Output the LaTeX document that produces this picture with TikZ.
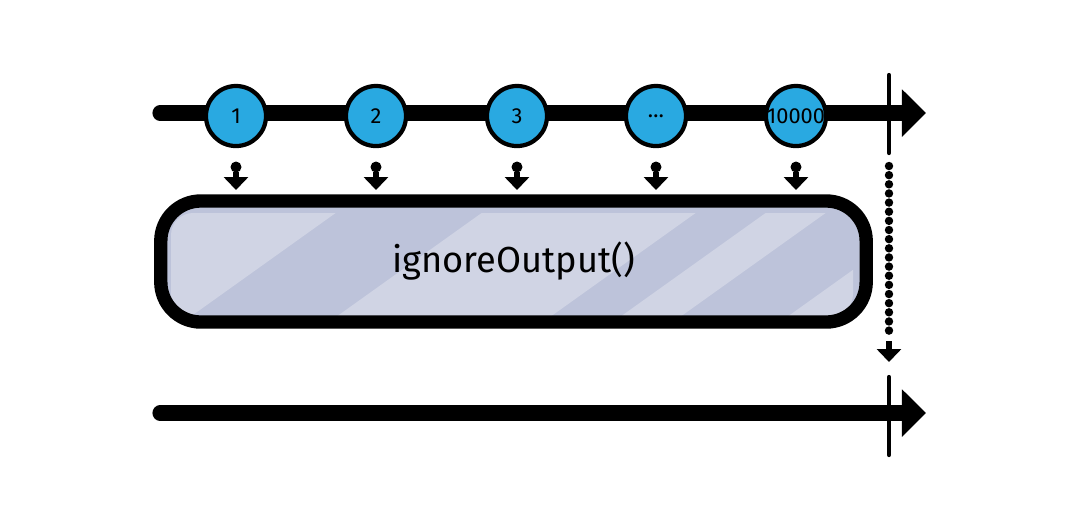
\documentclass[tikz,border=0pt]{standalone}
\usepackage{fontspec}
\setmainfont{Fira Sans}
\usetikzlibrary{arrows.meta}
\definecolor{marbleblue}{HTML}{29A9E1}
\definecolor{boxdark}{HTML}{BDC3DA}
\definecolor{boxlight}{HTML}{D0D4E4}
\tikzset{
timeline/.style={line width=4.3pt,-{Triangle[length=0.24cm,width=0.46cm]}},
marble/.style={circle,draw,line width=1.2pt,fill=marbleblue,minimum size=0.6cm,inner sep=0pt,font=\fontsize{6.2}{6}\selectfont},
drop/.style={line width=1.6pt,line cap=butt,-{Triangle[length=0.13cm,width=0.24cm]}},
endmark/.style={line width=1.2pt}
}
\begin{document}
\begin{tikzpicture}[>=stealth,line join=round,line cap=round,x=0.01cm,y=-0.01cm]
\useasboundingbox (0,0) rectangle (1072,514);
\path (160,113)coordinate(s1) (926,113)coordinate(t1) (889,113)coordinate(e1)
      (160,413)coordinate(s2) (926,413)coordinate(t2) (889,413)coordinate(e2);
% source and result lines
\draw[timeline] (s1)--(t1);
\draw[timeline] (s2)--(t2);
\draw[endmark] (e1) ++(0,-38)--++(0,78);
\draw[endmark] (e2) ++(0,-36)--++(0,78);
\foreach \x/\t [count=\i] in {236/1,376/2,517/3,656/\ldots,796/10000}{
\node[marble] (c\i) at (\x,116) {\t};
\fill (c\i) ++(0,51) circle (5.5);
\draw[drop] (c\i) ++(0,56)--++(0,18);
}
% operator box
\fill[boxdark,rounded corners=0.4cm] (161,201) rectangle (866,322);
\begin{scope}
\clip[rounded corners=0.22cm] (171,213) rectangle (853,316);
\foreach \a/\b in {0/337,483/697,767/827,934/1100}
\fill[boxlight] (\a,212)--(\b,212)--++(-147,105)--(\a-147,317)--cycle;
\end{scope}
\node[draw,line width=3.8pt,rounded corners=0.4cm,minimum width=7.05cm,minimum height=1.21cm,font=\fontsize{10.3}{12}\selectfont] (box) at (513.5,261.5) {ignoreOutput()};
% completion
\draw[line width=2.4pt,dash pattern=on 0pt off 2.6pt] (e1) ++(0,53)--++(0,170);
\draw[drop] (e1) ++(0,228)--++(0,21);
\end{tikzpicture}
\end{document}
